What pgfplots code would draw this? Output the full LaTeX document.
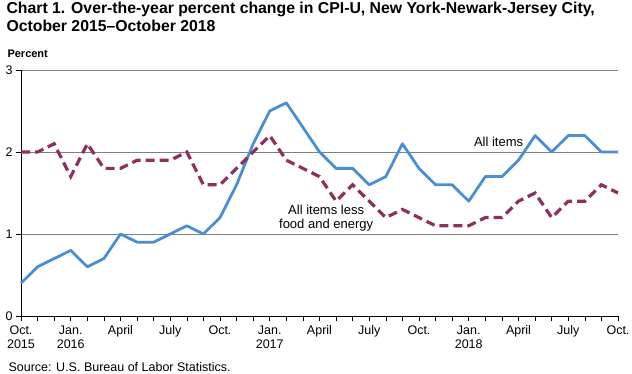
\documentclass[border=0pt]{standalone}
\usepackage{pgfplots}
\pgfplotsset{compat=1.18}
\usepackage{fontspec}
\setmainfont{Liberation Sans}
\definecolor{allblue}{HTML}{4A8FD6}
\definecolor{coremaroon}{HTML}{8E2F5E}
\definecolor{gridgray}{HTML}{808080}
\pgfplotstableread{
x all core
0 0.4 2.0
1 0.6 2.0
2 0.7 2.1
3 0.8 1.7
4 0.6 2.1
5 0.7 1.8
6 1.0 1.8
7 0.9 1.9
8 0.9 1.9
9 1.0 1.9
10 1.1 2.0
11 1.0 1.6
12 1.2 1.6
13 1.6 1.8
14 2.1 2.0
15 2.5 2.2
16 2.6 1.9
17 2.3 1.8
18 2.0 1.7
19 1.8 1.4
20 1.8 1.6
21 1.6 1.4
22 1.7 1.2
23 2.1 1.3
24 1.8 1.2
25 1.6 1.1
26 1.6 1.1
27 1.4 1.1
28 1.7 1.2
29 1.7 1.2
30 1.9 1.4
31 2.2 1.5
32 2.0 1.2
33 2.2 1.4
34 2.2 1.4
35 2.0 1.6
36 2.0 1.5
}\datatable
\begin{document}
\begin{tikzpicture}[x=1pt,y=1pt]
\useasboundingbox (0,0) rectangle (632,374);
\begin{axis}[
  at={(21pt,58pt)}, anchor=origin,
  scale only axis, width=597pt, height=246pt,
  xmin=0, xmax=36, ymin=0, ymax=3,
  axis x line*=bottom, axis y line*=left,
  axis line style={black, line width=0.8pt},
  xtick={0,3,...,36},
  xticklabels={{Oct.\\2015},{Jan.\\2016},April,July,Oct.,{Jan.\\2017},April,July,Oct.,{Jan.\\2018},April,July,Oct.},
  x tick label style={align=center, font=\fontsize{12.5}{14}\selectfont, anchor=north, yshift=-1pt},
  minor x tick num=2,
  ytick={0,1,2,3},
  y tick label style={font=\fontsize{12.5}{14}\selectfont},
  /pgf/number format/assume math mode=true,
  tick align=outside,
  major tick length=5pt, minor tick length=5pt,
  tick style={black, line width=0.6pt},
  ymajorgrids, grid style={gridgray, line width=0.6pt},
  clip=false,
]
\addplot[allblue, line width=2.8pt, line join=round] table[x=x,y=all] {\datatable};
\addplot[coremaroon, line width=3.2pt, dash pattern=on 9pt off 5pt] table[x=x,y=core] {\datatable};
\node[font=\fontsize{13}{14}\selectfont] at (axis cs:28.8,2.12) {All items};
\node[font=\fontsize{13}{14}\selectfont, align=center] at (axis cs:18.4,1.195) {All items less\\food and energy};
\end{axis}
\node[anchor=base west, font=\bfseries\fontsize{15.8}{17}\selectfont] at (3,360.5) {Chart 1. Over-the-year percent change in CPI-U, New York-Newark-Jersey City,};
\node[anchor=base west, font=\bfseries\fontsize{15.8}{17}\selectfont] at (3,342.3) {October 2015--October 2018};
\node[anchor=base west, font=\bfseries\fontsize{11}{13}\selectfont] at (4,316) {Percent};
\node[anchor=base west, font=\fontsize{12.5}{14}\selectfont] at (5,2.5) {Source: U.S. Bureau of Labor Statistics.};
\end{tikzpicture}
\end{document}
